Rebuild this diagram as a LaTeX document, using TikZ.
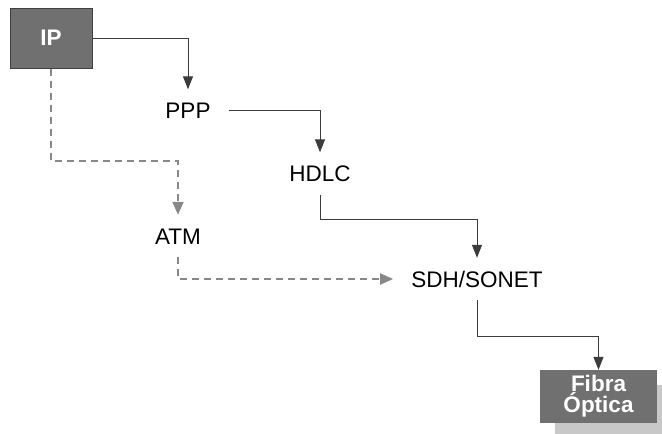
\documentclass[tikz,border=0pt]{standalone}
\usepackage{fontspec}
\setmainfont{Liberation Sans}
\usepackage{xcolor}
\usepackage{tikz}
\usetikzlibrary{arrows.meta,positioning}

\definecolor{boxgray}{HTML}{707070}
\definecolor{edgegray}{HTML}{404040}
\definecolor{linegray}{HTML}{3C3C3C}
\definecolor{dashgray}{HTML}{888888}
\definecolor{shadowgray}{HTML}{C8C8C8}

\begin{document}
\begin{tikzpicture}[x=1pt, y=-1pt,
font=\fontsize{22.5}{21}\selectfont,
layer/.style={inner xsep=18pt, inner ysep=13pt, text height=16pt, text depth=0pt},
endbox/.style={fill=boxgray, text=white, font=\fontsize{22.5}{21}\selectfont\bfseries, align=center},
arrow/.style={-{Triangle[length=13pt,width=10pt]}, draw=linegray, line width=1pt},
dasharrow/.style={-{Triangle[length=13pt,width=11pt]}, draw=dashgray, line width=2pt, dash pattern=on 7pt off 5pt}
]
\useasboundingbox (0,0) rectangle (662,434);
\fill[shadowgray] (555,385) rectangle (662,434);
\node[endbox, draw=edgegray, line width=1pt, minimum width=82pt, minimum height=60pt] (ip) at (51,38) {IP};
\node[layer] (ppp) at (188,110.5) {PPP};
\node[layer] (hdlc) at (320,173.5) {HDLC};
\node[layer] (atm) at (178,236) {ATM};
\node[layer] (sdh) at (477,279) {SDH/SONET};
\node[endbox, minimum width=117pt, minimum height=53pt, inner sep=0pt] (fibra) at (598.5,396.5) {Fibra\\Óptica};
\draw[arrow] (ip.east) -| (ppp.north);
\draw[arrow] (ppp.east) -| (hdlc.north);
\draw[arrow] (hdlc.south) -- ++(0,25) -| (sdh.north);
\draw[arrow] (sdh.south) -- ++(0,36) -| (fibra.north);
\draw[dasharrow] (ip.south) -- ++(0,92) -| (atm.north);
\draw[dasharrow] (atm.south) |- (sdh.west);
\end{tikzpicture}
\end{document}
